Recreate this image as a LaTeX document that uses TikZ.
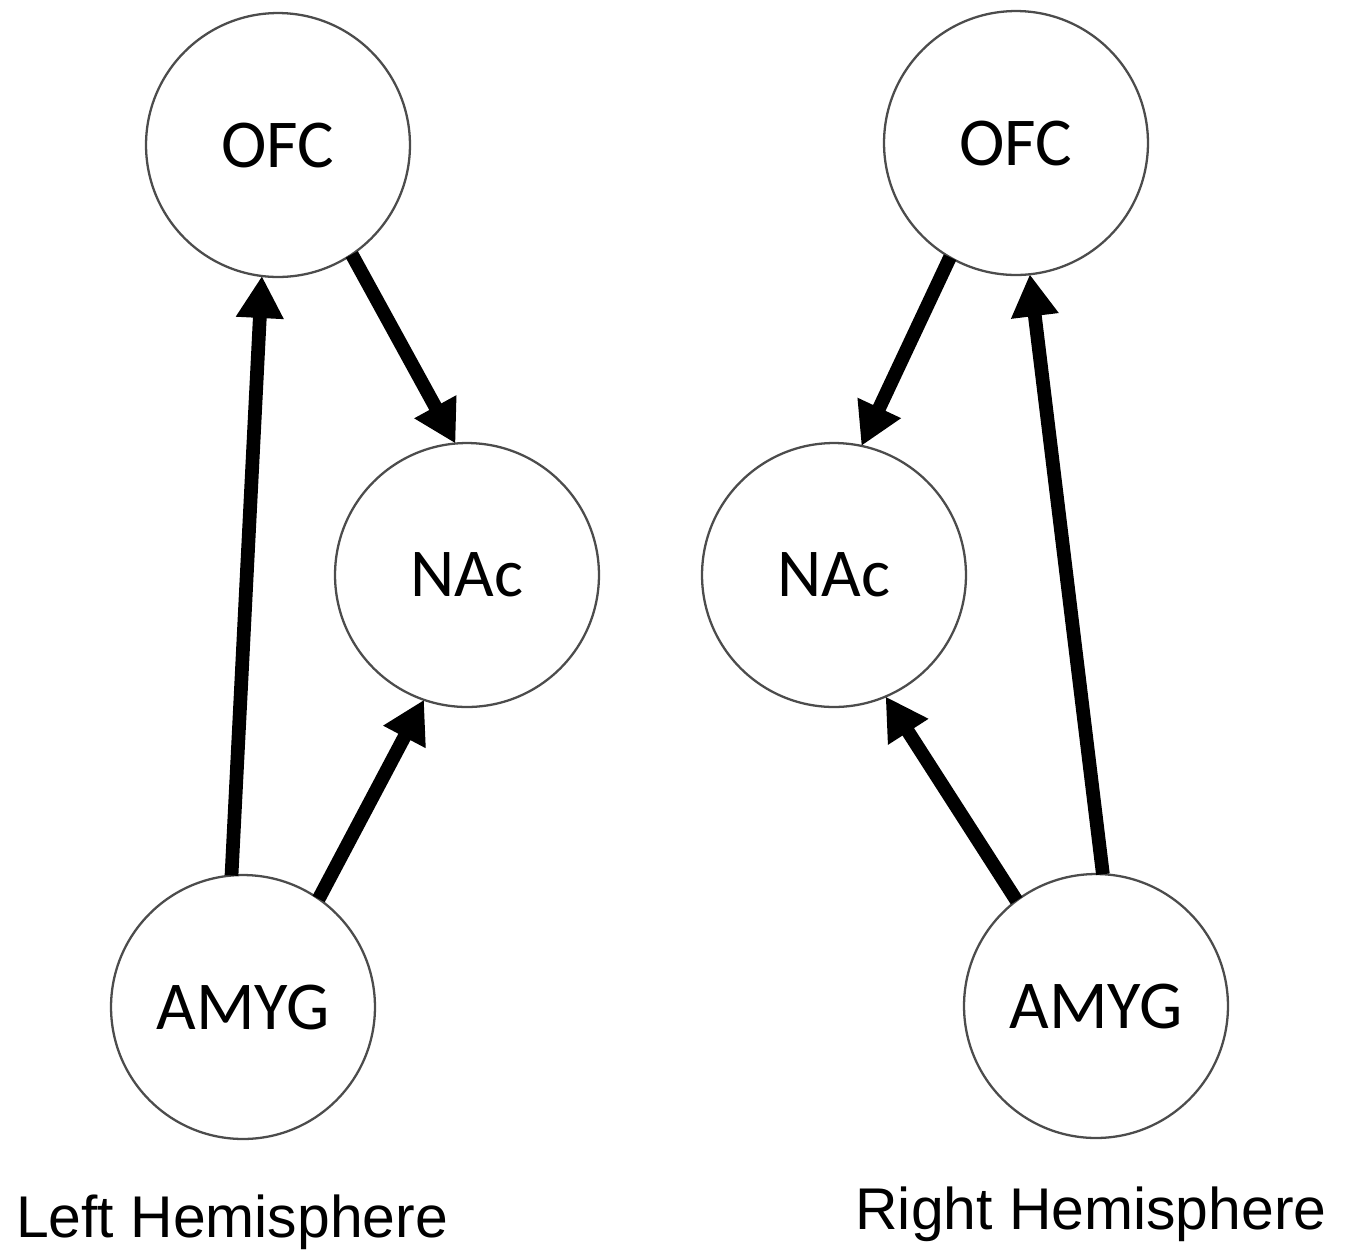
\documentclass[tikz,border=0pt]{standalone}
\usepackage{fontspec}
\setmainfont{Liberation Sans}
\newfontfamily\regionfont{Carlito}
\usetikzlibrary{arrows.meta}

\tikzset{
  region/.style={circle, draw=black!70, line width=1.3pt, fill=white,
    minimum size=5.28cm, inner sep=0pt, outer sep=0pt,
    font=\regionfont\fontsize{39}{44}\selectfont},
  link/.style={line width=7.8pt, -{Triangle[length=0.84cm, width=0.9cm]},
    shorten <=0pt},
  side/.style={anchor=base, font=\fontsize{33.5}{38}\selectfont}
}

\begin{document}
\begin{tikzpicture}[x=0.02cm, y=-0.02cm]
  \useasboundingbox (0,0) rectangle (1350,1249);

  % left hemisphere
  \node[region] (ofcL)  at (278,145)  {OFC};
  \node[region] (nacL)  at (467,575)  {NAc};
  \node[region] (amygL) at (243,1007) {AMYG};

  % right hemisphere
  \node[region] (ofcR)  at (1016,143) {OFC};
  \node[region] (nacR)  at (834,575)  {NAc};
  \node[region] (amygR) at (1096,1006) {AMYG};

  % connections, left
  \draw[link] (amygL.95)   -- (ofcL.263);
  \draw[link] (ofcL.-56.5) -- (nacL.95);
  \draw[link] (amygL.55.5) -- (nacL.-109.3);

  % connections, right
  \draw[link] (ofcR.-120.8)  -- (nacR.78.1);
  \draw[link] (amygR.87.4)   -- (ofcR.-84.9);
  \draw[link] (amygR.127.3)  -- (nacR.-67);

  % captions
  \node[side] (capL) at (232,1237) {Left Hemisphere};
  \node[side] (capR) at (1091,1229) {Right Hemisphere};
\end{tikzpicture}
\end{document}
